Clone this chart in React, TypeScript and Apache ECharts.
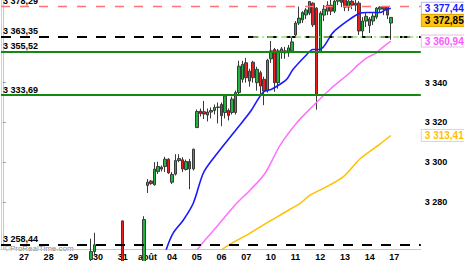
import React, { useEffect, useRef } from 'react';
import * as echarts from 'echarts';

const FONT = "'Liberation Sans', Arial, sans-serif";

// x axis: 7 hourly slots per trading day; labels on the first slot of each day
const dayLabels = ['27', '28', '29', '30', '31', 'août', '04', '05', '06', '07', '10', '11', '12', '13', '14', '17'];
const firstLabelSlot = 6;
const slotsPerDay = 7;
const slotCount = 119;

// y range visible in the picture
const yMin = 3256.3;
const yMax = 3381.6;
const yTickValues = [3280, 3300, 3320, 3340];

// candles: [slot, open, close, low, high]
const candles: [number, number, number, number, number][] = [
  [25, 3251, 3255, 3248, 3261.5],
  [26, 3255, 3258.44, 3253, 3264.5],
  [34, 3270.45, 3240, 3235, 3270.6],
  [40, 3250, 3271.1, 3248, 3272.8],
  [41, 3288.3, 3289.9, 3284.5, 3291.5],
  [42, 3290.5, 3289.2, 3288.6, 3291],
  [43, 3288.6, 3296.5, 3288.2, 3300],
  [44, 3295.3, 3297.8, 3294.1, 3300.2],
  [45, 3297.5, 3296.5, 3295.3, 3298.3],
  [46, 3297.8, 3301.5, 3295, 3302.7],
  [47, 3301.5, 3294.6, 3294.1, 3302],
  [48, 3289.9, 3293.8, 3289, 3295],
  [49, 3294, 3300.8, 3293.3, 3304],
  [50, 3300.8, 3301.8, 3300, 3304],
  [51, 3301.2, 3296.6, 3295, 3302.5],
  [52, 3296.3, 3300.3, 3295.8, 3301.3],
  [53, 3300.3, 3296.6, 3286.4, 3301.6],
  [54, 3296.6, 3306.5, 3295.8, 3306.8],
  [55, 3317.4, 3325.5, 3317.4, 3326.5],
  [56, 3325.7, 3324.5, 3323, 3327],
  [57, 3325.4, 3324.2, 3321.7, 3330.8],
  [58, 3323.7, 3325.2, 3320.5, 3327],
  [59, 3325.2, 3326, 3322, 3327.5],
  [60, 3326, 3327.5, 3324, 3329],
  [61, 3327.5, 3327.8, 3319.5, 3330],
  [62, 3329, 3323.4, 3318.1, 3330],
  [63, 3325, 3333.4, 3322, 3334],
  [64, 3326, 3323.5, 3321, 3327],
  [65, 3325, 3331.7, 3324, 3333],
  [66, 3325, 3335, 3324, 3336],
  [67, 3335, 3348.3, 3334, 3351],
  [68, 3341.7, 3349.2, 3340, 3351],
  [69, 3350, 3342.5, 3340, 3352.5],
  [70, 3340.8, 3345.8, 3338, 3347],
  [71, 3350.3, 3342.5, 3340, 3351],
  [72, 3340, 3346.7, 3336, 3348],
  [73, 3345, 3338.3, 3334.2, 3346],
  [74, 3341.7, 3335.8, 3328.7, 3343],
  [75, 3336, 3351.3, 3335, 3352],
  [76, 3352, 3356, 3350, 3361],
  [77, 3356.7, 3340, 3335.4, 3357.5],
  [78, 3340, 3356, 3337, 3357],
  [79, 3355.5, 3357, 3352, 3358],
  [80, 3356, 3355, 3352, 3358],
  [81, 3355, 3357.5, 3353, 3359],
  [82, 3356, 3360.5, 3355, 3363.3],
  [83, 3364, 3370, 3363.5, 3371],
  [84, 3370, 3372.5, 3369, 3378.3],
  [85, 3371.6, 3375.3, 3370, 3376],
  [86, 3374.1, 3376.6, 3372, 3377.5],
  [87, 3375, 3380.8, 3374, 3381],
  [88, 3380, 3369.1, 3368, 3380.5],
  [89, 3377.5, 3333.7, 3326.4, 3378],
  [90, 3355.5, 3375, 3355.5, 3376],
  [91, 3374, 3377, 3371, 3379],
  [92, 3376, 3379, 3374, 3381],
  [93, 3379, 3376, 3374, 3383],
  [94, 3376, 3381, 3375, 3385],
  [95, 3381, 3383, 3379, 3387.9],
  [96, 3383, 3380.4, 3378, 3385],
  [97, 3384, 3378, 3376, 3387.2],
  [98, 3378, 3381, 3376, 3383],
  [99, 3381, 3379, 3377, 3383],
  [100, 3379, 3380, 3376, 3382],
  [101, 3380, 3366, 3364, 3381],
  [102, 3366, 3371, 3363.4, 3373],
  [103, 3371, 3373.4, 3368, 3375],
  [104, 3368.7, 3372, 3365, 3373],
  [105, 3371, 3373.5, 3369, 3375],
  [106, 3373, 3377.5, 3372, 3378],
  [107, 3377, 3378, 3375, 3378.5],
  [108, 3378, 3377, 3374, 3378.5],
  [109, 3378.3, 3374, 3372, 3378.5],
  [110, 3370, 3372.85, 3361.6, 3373],
];

// moving averages: [slot, value]
const blueMA: [number, number][] = [
  [45.5, 3250], [46.5, 3256.8], [48.3, 3264.3], [51.2, 3270.9], [54, 3279.3], [56.8, 3294.3],
  [59.6, 3301.7], [66.3, 3316.7], [70.1, 3325.2], [73.8, 3335.2], [76.2, 3336.7], [78.6, 3339.2],
  [80.5, 3341.7], [82.3, 3346.7], [86.2, 3354.2], [87.9, 3356.7], [89.9, 3356.7], [93.6, 3365.2],
  [97.5, 3370.8], [101.3, 3375], [103.2, 3375.3], [107, 3375.3], [108.4, 3376.6], [110, 3377.44],
];
const pinkMA: [number, number][] = [
  [54.5, 3252], [55.3, 3256.3], [60.7, 3267.6], [66.3, 3279.3], [70.1, 3285.9], [74.3, 3294.3],
  [78.6, 3308.4], [83.3, 3319.7], [88, 3328.4], [92.8, 3336.7], [98.4, 3345], [100.3, 3348.3],
  [103.2, 3352.5], [106, 3355], [106.9, 3356.7], [110, 3360.94],
];
const orangeMA: [number, number][] = [
  [61.5, 3253], [62.3, 3256.3], [70.1, 3264.3], [73.9, 3268.4], [79.5, 3274.3], [84.3, 3279.3],
  [87.1, 3283.4], [89.9, 3285.9], [96.5, 3292.6], [101.3, 3301.7], [107, 3309.2], [110, 3313.41],
];

// horizontal levels
const levelRed = 3378.29;
const levelBlack = 3363.35;
const levelGreenHigh = 3355.52;
const levelGreenLow = 3333.69;
const levelBottom = 3258.44;
const supportDashDot = 3363.1;
const supportStartSlot = 71;
const supportEndSlot = 118;

const lastPrice = 3372.85;
const blueLast = 3377.44;
const pinkLast = 3360.94;
const orangeLast = 3313.41;

const fmt = (v: number, dec = 2) => {
  const s = v.toFixed(dec);
  const [i, d] = s.split('.');
  const ii = i.replace(/\B(?=(\d{3})+(?!\d))/g, ' ');
  return d ? ii + ',' + d : ii;
};

const categories = Array.from({ length: slotCount }, (_, i) => 's' + i);
const labelAt = (i: number) => {
  if (i < firstLabelSlot || (i - firstLabelSlot) % slotsPerDay !== 0) return '';
  return dayLabels[(i - firstLabelSlot) / slotsPerDay] ?? '';
};

const candleData: any[] = categories.map(() => '-');
candles.forEach(([s, o, c, l, h]) => {
  candleData[s] = [o, c, l, h];
});

const leftLabel = (text: string) => ({
  show: true,
  position: 'insideStartTop',
  formatter: text,
  color: '#000',
  fontSize: 9,
  fontWeight: 'bold',
  fontFamily: FONT,
  distance: [2, 1],
});

const tag = (v: number, color: string, bg: string, border: string, dy = 0) => ({
  yAxis: v,
  lineStyle: { color: 'rgba(0,0,0,0)', width: 1, type: 'solid' },
  label: {
    show: true,
    position: 'end',
    formatter: fmt(v),
    color,
    backgroundColor: bg,
    borderColor: border,
    borderWidth: 1,
    padding: [1, 6, 0, 3],
    fontSize: 10,
    fontWeight: 'bold',
    fontFamily: FONT,
    distance: 1,
    offset: [0, dy],
  },
});

export default function App() {
  const ref = useRef<HTMLDivElement>(null);
  useEffect(() => {
    const chart = echarts.init(ref.current!, null, { renderer: 'svg' });
    const option: any = {
      animation: false,
      backgroundColor: '#fff',
      grid: { left: 1, top: 0, right: 43.2, bottom: 10, containLabel: false },
      xAxis: [
        {
          type: 'category',
          data: categories,
          boundaryGap: true,
          axisLine: { lineStyle: { color: '#c8c8c8', width: 1 } },
          axisTick: { show: false },
          axisLabel: {
            interval: (i: number) => labelAt(i) !== '',
            formatter: (_v: string, i: number) => labelAt(i),
            color: '#000',
            fontSize: 9,
            fontWeight: 'bold',
            fontFamily: FONT,
            margin: 3,
          },
          splitLine: { show: false },
        },
        { type: 'value', min: -0.5, max: slotCount - 0.5, show: false },
      ],
      yAxis: [
        {
          type: 'value',
          position: 'right',
          min: yMin,
          max: yMax,
          splitNumber: 6,
          axisLine: { show: true, lineStyle: { color: '#c8c8c8' } },
          axisTick: { show: true, length: 3, lineStyle: { color: '#999' }, customValues: yTickValues },
          axisLabel: {
            customValues: yTickValues,
            formatter: (v: number) => (yTickValues.includes(Math.round(v * 100) / 100) ? fmt(v, 0) : ''),
            color: '#000',
            fontSize: 9,
            fontWeight: 'bold',
            fontFamily: FONT,
            margin: 4,
          },
          splitLine: { show: false },
        },
        {
          type: 'value',
          position: 'left',
          min: yMin,
          max: yMax,
          axisLine: { show: true, lineStyle: { color: '#d0d0d0' } },
          axisTick: { show: false },
          axisLabel: { show: false },
          splitLine: { show: false },
        },
      ],
      series: [
        {
          type: 'candlestick',
          data: candleData,
          barWidth: 3,
          clip: true,
          itemStyle: {
            color: '#1fb53d',
            color0: '#ee1c1c',
            borderColor: '#3a3a3a',
            borderColor0: '#3a3a3a',
            borderWidth: 1,
          },
          markLine: {
            silent: true,
            symbol: ['none', 'none'],
            animation: false,
            data: [
              { yAxis: levelRed, lineStyle: { color: '#ff7272', type: [9, 10], width: 1.3 }, label: leftLabel(fmt(levelRed)) },
              { yAxis: levelBlack, lineStyle: { color: '#000', type: [10, 9], width: 2 }, label: leftLabel(fmt(levelBlack)) },
              { yAxis: levelGreenHigh, lineStyle: { color: '#128a12', type: 'solid', width: 2 }, label: leftLabel(fmt(levelGreenHigh)) },
              { yAxis: levelGreenLow, lineStyle: { color: '#128a12', type: 'solid', width: 2 }, label: leftLabel(fmt(levelGreenLow)) },
              { yAxis: levelBottom, lineStyle: { color: '#000', type: [10, 9], width: 2 }, label: leftLabel(fmt(levelBottom)) },
              [
                { coord: [categories[supportStartSlot], supportDashDot], lineStyle: { color: '#9fdc7c', type: [6, 3, 2, 3], width: 1.5 }, label: { show: false } },
                { coord: [categories[supportEndSlot], supportDashDot] },
              ],
            ],
          },
        },
        {
          type: 'line', xAxisIndex: 1, data: blueMA, showSymbol: false, smooth: 0.3, clip: true,
          lineStyle: { color: '#1a1aff', width: 1.6 }, z: 3,
        },
        {
          type: 'line', xAxisIndex: 1, data: pinkMA, showSymbol: false, smooth: 0.3, clip: true,
          lineStyle: { color: '#ff70ff', width: 1.5 }, z: 3,
        },
        {
          type: 'line', xAxisIndex: 1, data: orangeMA, showSymbol: false, smooth: 0.3, clip: true,
          lineStyle: { color: '#ffc000', width: 1.5 }, z: 3,
        },
        {
          type: 'line',
          data: [],
          markLine: {
            silent: true,
            symbol: ['none', 'none'],
            animation: false,
            data: [
              tag(blueLast, '#1a1aff', '#fff', '#b8b8e8'),
              tag(lastPrice, '#000', '#ffc61a', '#e0aa00', 3),
              tag(pinkLast, '#ff55ff', '#fff', '#e0c0e0'),
              tag(orangeLast, '#ffbf00', '#fff', '#d8d8d8'),
            ],
          },
          z: 5,
        },
      ],
      graphic: [
        {
          type: 'text',
          left: 4,
          top: 244,
          style: { text: '©ProRealTime.com', fill: '#8a8a8a', fontSize: 8, fontFamily: FONT },
          silent: true,
        },
      ],
    };
    chart.setOption(option);
    return () => chart.dispose();
  }, []);
  return (
    <div
      ref={ref}
      style={{ position: 'fixed', left: 0, top: 0, width: 464, height: 261, background: '#fff' }}
    />
  );
}
